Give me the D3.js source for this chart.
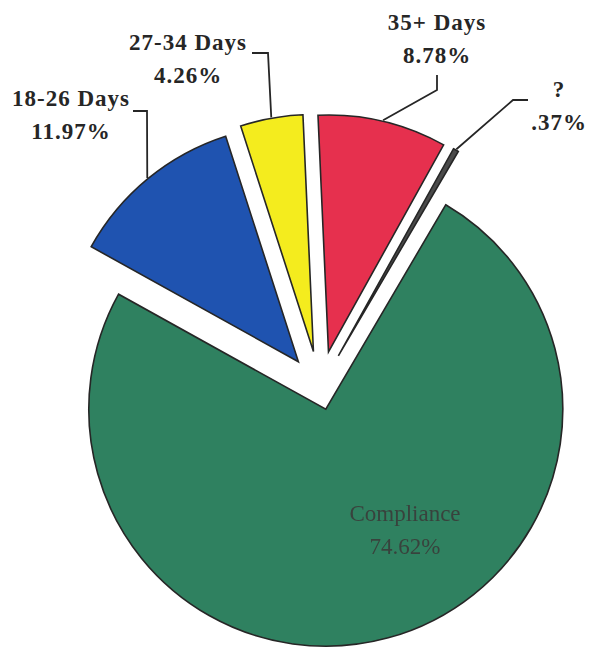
<!DOCTYPE html>
<html>
<head>
<meta charset="utf-8">
<script src="https://cdn.jsdelivr.net/npm/d3@7"></script>
<style>
  html, body { margin: 0; padding: 0; background: #fff; }
  svg { display: block; }
</style>
</head>
<body>
<script>
// Share of records by processing time
const categories = ["Compliance", "18-26 Days", "27-34 Days", "35+ Days", "?"];
const percents   = [74.62, 11.97, 4.26, 8.78, 0.37];
const valueLabels = ["74.62%", "11.97%", "4.26%", "8.78%", ".37%"];

const colors  = ["#2f8160", "#1f53b0", "#f4ec1e", "#e6304e", "#4a4a4a"];
const explode = [22, 34, 37, 37, 37];

const width = 590, height = 648;
const cx = 320, cy = 388, radius = 237;
const startDeg = 30.4;

// Label layout: text anchor point and the elbow of the leader line
const labelLayout = [
  { x: 405, y: 521, elbow: null, inside: true },
  { x: 71,  y: 106, elbow: [[133, 111], [147, 111]] },
  { x: 188, y: 50,  elbow: [[252, 53], [268, 53]] },
  { x: 437, y: 30,  elbow: [[437, 75], [437, 90]] },
  { x: 559, y: 97,  elbow: [[528, 100], [513, 100]] }
];

const svg = d3.select("body").append("svg")
  .attr("width", width).attr("height", height);

const pie = d3.pie().sort(null)
  .startAngle(startDeg * Math.PI / 180)
  .endAngle(startDeg * Math.PI / 180 + 2 * Math.PI);

const arcs = pie(percents);
const arc = d3.arc().innerRadius(0).outerRadius(radius);

function offsetOf(d, i) {
  const m = (d.startAngle + d.endAngle) / 2;
  return [explode[i] * Math.sin(m), -explode[i] * Math.cos(m)];
}

const g = svg.append("g").attr("transform", `translate(${cx},${cy})`);

g.selectAll("path.slice").data(arcs).join("path")
  .attr("class", "slice")
  .attr("transform", (d, i) => { const o = offsetOf(d, i); return `translate(${o[0]},${o[1]})`; })
  .attr("d", arc)
  .attr("fill", (d, i) => colors[i])
  .attr("stroke", "#262626")
  .attr("stroke-width", 1.6)
  .attr("stroke-linejoin", "miter");

// Leader lines from the middle of each outer arc to the label
const lead = d3.line();
arcs.forEach((d, i) => {
  const L = labelLayout[i];
  if (!L.elbow) return;
  const o = offsetOf(d, i);
  const m = (d.startAngle + d.endAngle) / 2;
  const r = radius + 1;
  const p = [cx + o[0] + r * Math.sin(m), cy + o[1] - r * Math.cos(m)];
  svg.append("path")
    .attr("d", lead([L.elbow[0], L.elbow[1], p]))
    .attr("fill", "none")
    .attr("stroke", "#262626")
    .attr("stroke-width", 1.8);
});

// Category and percentage labels
svg.append("defs").append("filter").attr("id", "soft")
  .append("feGaussianBlur").attr("stdDeviation", 0.6);

labelLayout.forEach((L, i) => {
  const t = svg.append("text")
    .attr("x", L.x).attr("y", L.y)
    .attr("text-anchor", "middle")
    .attr("font-family", "'Liberation Serif', 'Times New Roman', serif")
    .attr("font-size", 23)
    .attr("letter-spacing", L.inside ? 0 : 1)
    .attr("font-weight", L.inside ? "normal" : "bold")
    .attr("fill", L.inside ? "#38433d" : "#262626");
  if (L.inside) t.attr("filter", "url(#soft)");
  t.append("tspan").attr("x", L.x).text(categories[i]);
  t.append("tspan").attr("x", L.x).attr("dy", 33).text(valueLabels[i]);
});
</script>
</body>
</html>
